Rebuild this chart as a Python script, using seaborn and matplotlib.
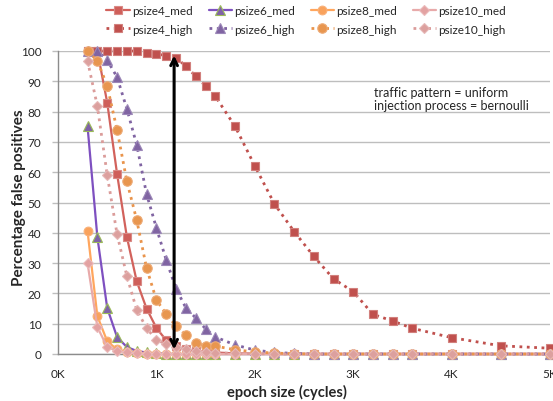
import matplotlib
matplotlib.use("Agg")
import matplotlib.pyplot as plt
import seaborn as sns
import pandas as pd

epoch = [300, 400, 500, 600, 700, 800, 900, 1000, 1100, 1200, 1300, 1400, 1500, 1600,
         1800, 2000, 2200, 2400, 2600, 2800, 3000, 3200, 3400, 3600, 4000, 4500, 5000]

psize4_med = [100, 100, 83, 59.5, 38.6, 24, 15, 8.6, 4.5, 2.6, 1.5, 1.0, 0.7, 0.5,
              0.2, 0.1, 0, 0, 0, 0, 0, 0, 0, 0, 0, 0, 0]
psize6_med = [75.2, 38.6, 15.2, 5.6, 2.3, 1.0, 0.5, 0.2, 0.1, 0, 0, 0, 0, 0,
              0, 0, 0, 0, 0, 0, 0, 0, 0, 0, 0, 0, 0]
psize8_med = [40.6, 12.5, 4.2, 1.5, 0.7, 0.3, 0.1, 0, 0, 0, 0, 0, 0, 0,
              0, 0, 0, 0, 0, 0, 0, 0, 0, 0, 0, 0, 0]
psize10_med = [30, 8.9, 2.3, 1.0, 0.5, 0.2, 0.1, 0, 0, 0, 0, 0, 0, 0,
               0, 0, 0, 0, 0, 0, 0, 0, 0, 0, 0, 0, 0]
psize4_high = [100, 100, 100, 100, 100, 100, 99.5, 99, 98.5, 97.6, 95.1, 91.6, 88.5, 85,
               75.1, 62.1, 49.5, 40.4, 32.2, 24.8, 20.6, 13.1, 10.9, 8.5, 5.4, 2.7, 1.9]
psize6_high = [100, 100, 97, 91.4, 80.9, 69, 52.8, 41.6, 31, 21.5, 15.2, 11.9, 8.3, 5.6,
               3, 1.3, 0.5, 0.2, 0, 0, 0, 0, 0, 0, 0, 0, 0]
psize8_high = [100, 96.8, 88.5, 74, 57, 44.2, 28.4, 17.8, 13.2, 9.2, 6.3, 3.6, 2.7, 2.6,
               1.4, 0.7, 0.3, 0.1, 0, 0, 0, 0, 0, 0, 0, 0, 0]
psize10_high = [96.8, 81.8, 59.1, 39.6, 25.7, 14.5, 8.6, 4.6, 3.3, 2.3, 1.5, 1.0, 0.6, 0.4,
                0.2, 0.1, 0, 0, 0, 0, 0, 0, 0, 0, 0, 0, 0]

series_names = ["psize4_med", "psize6_med", "psize8_med", "psize10_med",
                "psize4_high", "psize6_high", "psize8_high", "psize10_high"]
series_values = [psize4_med, psize6_med, psize8_med, psize10_med,
                 psize4_high, psize6_high, psize8_high, psize10_high]

x_ticks = [0, 1000, 2000, 3000, 4000, 5000]
x_ticklabels = ["0K", "1K", "2K", "3K", "4K", "5K"]
y_ticks = list(range(0, 101, 10))

annotation_lines = ["traffic pattern = uniform", "injection process = bernoulli"]

styles = {
    "psize4_med":   dict(color="#D2625C", mfc="#CF5F5A", mec="#D98A86", marker="s", ms=6.3, ls="-"),
    "psize6_med":   dict(color="#7E50C0", mfc="#7F62A8", mec="#9BBB59", marker="^", ms=6.8, ls="-"),
    "psize8_med":   dict(color="#FFA65E", mfc="#F9A25C", mec="#F9B17A", marker="o", ms=6.3, ls="-"),
    "psize10_med":  dict(color="#E8AAAA", mfc="#E3A2A2", mec="#EBBBBB", marker="D", ms=5.0, ls="-"),
    "psize4_high":  dict(color="#C0504D", mfc="#C0504D", mec="#D2807D", marker="s", ms=6.3, ls=":"),
    "psize6_high":  dict(color="#8064A2", mfc="#8064A2", mec="#9C88B8", marker="^", ms=6.8, ls=":"),
    "psize8_high":  dict(color="#E9944C", mfc="#E8964F", mec="#EDAA75", marker="o", ms=6.8, ls=":"),
    "psize10_high": dict(color="#DB9C9A", mfc="#DCA09E", mec="#E6B8B7", marker="D", ms=5.0, ls=":"),
}

sns.set_theme(style="white")
plt.rcParams["font.family"] = ["Lato", "DejaVu Sans"]

fig = plt.figure(figsize=(5.53, 4.02), dpi=100)
ax = fig.add_axes([58 / 553, 1 - 355 / 402, 492 / 553, 303 / 402])

handles = {}
for name, vals in zip(series_names, series_values):
    st = styles[name]
    df = pd.DataFrame({"epoch": epoch, "value": vals})
    sns.lineplot(data=df, x="epoch", y="value", ax=ax, color=st["color"],
                 marker=st["marker"], markersize=st["ms"], markerfacecolor=st["mfc"],
                 markeredgecolor=st["mec"], markeredgewidth=0.8,
                 linestyle=st["ls"], linewidth=2.0 if st["ls"] == ":" else 1.6,
                 label=name, clip_on=False, zorder=3, legend=False)
    handles[name] = ax.lines[-1]

if ax.get_legend() is not None:
    ax.get_legend().remove()

ax.set_xlim(0, 5000)
ax.set_ylim(0, 100)
ax.set_xticks(x_ticks)
ax.set_xticklabels(x_ticklabels, fontsize=8.5)
ax.set_yticks(y_ticks)
ax.set_yticklabels([str(v) for v in y_ticks], fontsize=8.5)
ax.yaxis.grid(True, color="#BEBEBE", linewidth=1.0)
ax.xaxis.grid(False)
for side in ["top", "right"]:
    ax.spines[side].set_visible(False)
ax.spines["left"].set_color("#8C8C8C")
ax.spines["bottom"].set_color("#8C8C8C")
ax.spines["left"].set_linewidth(1.0)
ax.spines["bottom"].set_linewidth(1.0)
ax.tick_params(axis="y", which="both", left=True, length=4, width=1.0, color="#BEBEBE", pad=8)
ax.tick_params(axis="x", which="both", bottom=False, length=0, pad=10)

ax.set_xlabel("epoch size (cycles)", fontsize=10.5, fontweight="bold")
ax.set_ylabel("Percentage false positives", fontsize=11, fontweight="bold")
ax.xaxis.set_label_coords((287 - 58) / 492, (355 - 385) / 303)
ax.yaxis.set_label_coords((19 - 58) / 492, 0.518)
ax.yaxis.label.set_va("center")

ax.text(3210, 86.5, annotation_lines[0], fontsize=9, ha="left", va="center")
ax.text(3210, 82.2, annotation_lines[1], fontsize=9, ha="left", va="center")

ax.annotate("", xy=(1180, 98.5), xytext=(1180, 1.5),
            arrowprops=dict(arrowstyle="<->", color="black", lw=2.2,
                            mutation_scale=12, shrinkA=0, shrinkB=0),
            zorder=6)

order = ["psize4_med", "psize4_high", "psize6_med", "psize6_high",
         "psize8_med", "psize8_high", "psize10_med", "psize10_high"]
fig.legend([handles[n] for n in order], order, ncol=4, loc="upper left",
           bbox_to_anchor=(100 / 553, 1.0), frameon=False, fontsize=8.5,
           handlelength=1.95, columnspacing=1.35, handletextpad=0.2,
           labelspacing=0.6, borderaxespad=0.15)

fig.savefig("out.png", dpi=100)
